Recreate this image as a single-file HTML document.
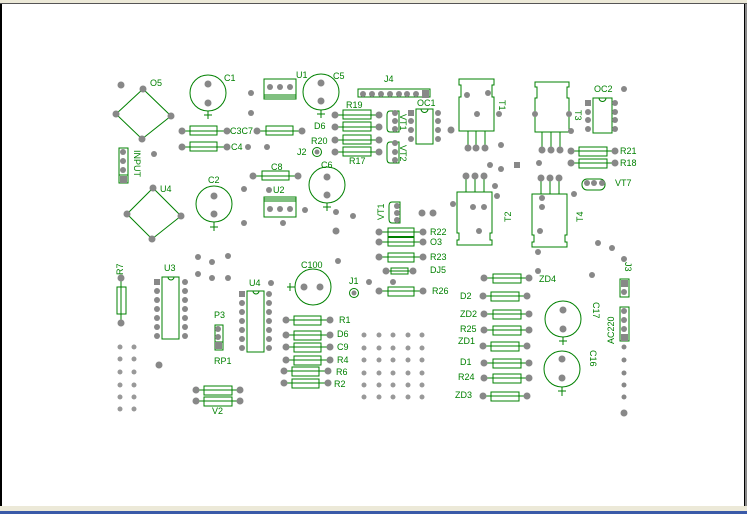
<!DOCTYPE html>
<html><head><meta charset="utf-8"><style>
html,body{margin:0;padding:0;background:#fff;width:747px;height:514px;overflow:hidden}
svg{display:block}
text{font-family:"Liberation Sans",sans-serif;font-size:9px;fill:#008000}
</style></head><body>
<svg width="747" height="514" viewBox="0 0 747 514" xmlns="http://www.w3.org/2000/svg">
<rect x="0" y="0" width="747" height="4" fill="#ece9d8"/>
<rect x="0" y="3" width="747" height="1" fill="#555"/>
<rect x="0" y="4" width="2" height="502" fill="#000"/>
<rect x="744" y="4" width="1" height="502" fill="#000"/>
<rect x="745" y="4" width="2" height="510" fill="#888"/>
<rect x="0" y="506" width="747" height="5" fill="#ece9d8"/>
<rect x="0" y="511" width="747" height="3" fill="#3a5aa8"/>

<g fill="none" stroke="#008000" stroke-width="1">
<!-- bridges -->
<polygon points="143,89 116,114 142,139 171,116"/>
<polygon points="153,188 127,214 152,239 181,216"/>
<!-- caps -->
<circle cx="208" cy="93" r="18"/><path d="M208,111V119M204,115H212"/>
<circle cx="321" cy="92" r="18"/><path d="M321,110V118M317,114H325"/>
<circle cx="214" cy="204" r="18"/><path d="M214,222V231M210,227H218"/>
<circle cx="327" cy="185" r="18"/><path d="M327,203V211M323,207H331"/>
<circle cx="313" cy="287" r="18"/><path d="M295,287H287M290,283V291"/>
<circle cx="563" cy="319" r="18"/><path d="M563,337V345M559,341H567"/>
<circle cx="562" cy="369" r="18"/><path d="M562,387V396M558,391H566"/>
<!-- U1 U2 regulators -->
<rect x="264" y="79" width="32" height="20"/><path d="M264,95H296M264,97H296"/>
<rect x="264" y="197" width="32" height="20"/><path d="M264,199H296M264,201H296"/>
<!-- INPUT -->
<rect x="119" y="148" width="9" height="35"/><path d="M119,175H128"/>
<!-- resistors -->
<path d="M182,131H227M257,131H302M182,147H227M253,176H298"/>
<rect x="190" y="126" width="27" height="9"/><rect x="266" y="126" width="27" height="9"/>
<rect x="190" y="142" width="27" height="9"/><rect x="262" y="171" width="27" height="9"/>
<path d="M335,115H379M335,127H379M335,140H379M335,152H379"/>
<rect x="343" y="110" width="28" height="9"/><rect x="343" y="122" width="28" height="9"/>
<rect x="343" y="135" width="28" height="9"/><rect x="343" y="147" width="28" height="9"/>
<!-- J4 -->
<rect x="358" y="89" width="72" height="8"/>
<!-- VT transistors -->
<path d="M399,111H390Q387,111 387,115V128Q387,132 390,132H399Z"/>
<path d="M399,142H390Q387,142 387,146V159Q387,163 390,163H399Z"/>
<path d="M400,202H392Q389,202 389,206V219Q389,223 392,223H400Z"/>
<!-- OC1 OC2 -->
<rect x="416" y="109" width="17" height="35"/><path d="M421,109A3.5,3.5 0 0 0 428,109"/>
<rect x="593" y="98" width="19" height="35"/><path d="M599,98A3.5,3.5 0 0 0 606,98"/>
<!-- T1 -->
<path d="M459,79H494V85H492V97H494V131H459V97H461V85H459Z"/>
<path d="M468,131V148M476,131V148M485,131V148"/>
<!-- T3 -->
<path d="M535,82H569V87H567V98H569V132H535V98H537V87H535Z"/>
<path d="M542,132V150M551,132V150M560,132V150"/>
<!-- T2 -->
<path d="M457,192H492V233H490V240H492V245H457V240H459V233H457Z"/>
<path d="M466,176V192M475,176V192M484,176V192"/>
<!-- T4 -->
<path d="M532,194H567V235H565V242H567V247H532V242H534V235H532Z"/>
<path d="M541,178V194M550,178V194M559,178V194"/>
<!-- VT7 -->
<rect x="582" y="179" width="23" height="11" rx="5"/>
<!-- R21 R18 -->
<path d="M571,151H615M571,163H615"/>
<rect x="579" y="147" width="28" height="9"/><rect x="579" y="159" width="28" height="9"/>
<!-- R22 O3 R23 D15 R26 -->
<path d="M379,232H423M379,242H423M379,257H423M386,271H413M379,291H423"/>
<rect x="388" y="228" width="26" height="9"/><rect x="388" y="237" width="26" height="9"/>
<path d="M388,237H414" stroke-width="2"/>
<rect x="388" y="253" width="26" height="9"/><rect x="391" y="268" width="17" height="6"/>
<rect x="388" y="287" width="26" height="9"/>
<!-- R7 -->
<path d="M121,278V323"/><rect x="117" y="287" width="9" height="27"/>
<!-- U3 U4 DIP -->
<rect x="162" y="277" width="17" height="62"/><path d="M168,277A3,3 0 0 0 174,277"/>
<rect x="247" y="291" width="17" height="61"/><path d="M253,291A3,3 0 0 0 259,291"/>
<!-- P3 -->
<rect x="215" y="325" width="8" height="25"/><path d="M215,342H223"/>
<!-- R1..R2 -->
<path d="M286,320H330M286,335H330M286,347H330M286,360H330M284,371H328M284,383H328"/>
<rect x="294" y="316" width="27" height="9"/><rect x="294" y="331" width="27" height="9"/>
<rect x="294" y="343" width="27" height="9"/><rect x="294" y="356" width="27" height="9"/>
<rect x="292" y="367" width="27" height="9"/><rect x="292" y="379" width="27" height="9"/>
<!-- V2 -->
<path d="M196,390H240M196,401H240"/>
<rect x="204" y="386" width="28" height="9"/><rect x="204" y="397" width="28" height="9"/>
<!-- right resistors -->
<path d="M484,278H529M483,296H527M484,314H529M484,330H529M483,346H527M484,363H529M484,378H529M483,396H527"/>
<rect x="493" y="274" width="28" height="9"/><rect x="491" y="292" width="28" height="9"/>
<rect x="493" y="310" width="28" height="9"/><rect x="493" y="326" width="28" height="9"/>
<rect x="491" y="342" width="28" height="9"/><rect x="493" y="359" width="28" height="9"/>
<rect x="493" y="374" width="28" height="9"/><rect x="491" y="392" width="28" height="9"/>
<!-- J3 AC220 -->
<rect x="620" y="279" width="9" height="18"/><rect x="620" y="307" width="9" height="34"/>
<!-- J2 J1 -->
<circle cx="317" cy="152" r="4.5"/><circle cx="354" cy="293" r="4.5"/>
</g>

<g fill="#888">
<circle cx="143" cy="89" r="3.5"/><circle cx="116" cy="114" r="3.5"/><circle cx="142" cy="139" r="3.5"/><circle cx="171" cy="116" r="3.5"/><circle cx="121" cy="85" r="3.5"/>
<circle cx="153" cy="188" r="3.5"/><circle cx="127" cy="214" r="3.5"/><circle cx="152" cy="239" r="3.5"/><circle cx="181" cy="216" r="3.5"/>
<circle cx="208" cy="84" r="3.5"/><circle cx="208" cy="103" r="3.5"/>
<circle cx="321" cy="83" r="3.5"/><circle cx="321" cy="101" r="3.5"/>
<circle cx="214" cy="196" r="3.5"/><circle cx="214" cy="214" r="3.5"/>
<circle cx="327" cy="177" r="3.5"/><circle cx="327" cy="195" r="3.5"/>
<circle cx="304" cy="287" r="3.5"/><circle cx="320" cy="287" r="3.5"/>
<circle cx="563" cy="310" r="3.5"/><circle cx="563" cy="329" r="3.5"/>
<circle cx="562" cy="359" r="3.5"/><circle cx="562" cy="378" r="3.5"/>
<circle cx="270" cy="87" r="3"/><circle cx="280" cy="87" r="3"/><circle cx="290" cy="87" r="3"/>
<circle cx="270" cy="209" r="3"/><circle cx="280" cy="209" r="3"/><circle cx="290" cy="209" r="3"/>
<circle cx="123" cy="152" r="3"/><circle cx="123" cy="161" r="3"/><circle cx="123" cy="170" r="3"/><rect x="120" y="176" width="7" height="7"/>
<circle cx="182" cy="131" r="3.5"/><circle cx="227" cy="131" r="3.5"/><circle cx="257" cy="131" r="3.5"/><circle cx="302" cy="131" r="3.5"/>
<circle cx="182" cy="147" r="3.5"/><circle cx="227" cy="147" r="3.5"/><circle cx="248" cy="147" r="3"/><circle cx="267" cy="147" r="3"/>
<circle cx="253" cy="176" r="3.5"/><circle cx="298" cy="176" r="3.5"/>
<circle cx="154" cy="154" r="3"/><circle cx="251" cy="93" r="3"/><circle cx="251" cy="113" r="3"/>
<circle cx="269" cy="190" r="3"/><circle cx="244" cy="189" r="3"/><circle cx="244" cy="223" r="3"/><circle cx="283" cy="223" r="3"/><circle cx="305" cy="210" r="3"/><circle cx="336" cy="212" r="3"/><circle cx="336" cy="231" r="3.5"/>
<circle cx="335" cy="115" r="3.5"/><circle cx="379" cy="115" r="3.5"/><circle cx="335" cy="127" r="3.5"/><circle cx="379" cy="127" r="3.5"/>
<circle cx="335" cy="140" r="3.5"/><circle cx="379" cy="140" r="3.5"/><circle cx="335" cy="152" r="3.5"/><circle cx="379" cy="152" r="3.5"/>
<circle cx="363" cy="94" r="3"/><circle cx="372" cy="94" r="3"/><circle cx="381" cy="94" r="3"/><circle cx="390" cy="94" r="3"/><circle cx="399" cy="94" r="3"/><circle cx="407" cy="94" r="3"/><circle cx="416" cy="94" r="3"/><rect x="422" y="90" width="7" height="8"/>
<circle cx="395" cy="113" r="3"/><circle cx="395" cy="121" r="3"/><circle cx="395" cy="129" r="3"/>
<circle cx="395" cy="143" r="3"/><circle cx="395" cy="152" r="3"/><circle cx="395" cy="160" r="3"/>
<circle cx="397" cy="206" r="3"/><circle cx="397" cy="213" r="3"/><circle cx="397" cy="220" r="3"/>
<rect x="408" y="110" width="6" height="6"/><circle cx="411" cy="121" r="3"/><circle cx="411" cy="130" r="3"/><circle cx="411" cy="139" r="3"/>
<circle cx="438" cy="113" r="3"/><circle cx="438" cy="121" r="3"/><circle cx="438" cy="130" r="3"/><circle cx="438" cy="139" r="3"/>
<circle cx="451" cy="130" r="3.5"/>
<rect x="585" y="100" width="6" height="6"/><circle cx="588" cy="112" r="3"/><circle cx="588" cy="120" r="3"/><circle cx="588" cy="129" r="3"/>
<circle cx="615" cy="103" r="3"/><circle cx="615" cy="112" r="3"/><circle cx="615" cy="120" r="3"/><circle cx="615" cy="129" r="3"/><circle cx="624" cy="89" r="3"/>
<circle cx="467" cy="95" r="3"/><circle cx="488" cy="93" r="3"/><circle cx="477" cy="114" r="3"/><circle cx="499" cy="114" r="3"/>
<circle cx="468" cy="148" r="3.5"/><circle cx="476" cy="148" r="3.5"/><circle cx="485" cy="148" r="3.5"/>
<circle cx="535" cy="114" r="3"/><circle cx="569" cy="114" r="3"/><circle cx="571" cy="131" r="3"/>
<circle cx="542" cy="150" r="3.5"/><circle cx="551" cy="150" r="3.5"/><circle cx="560" cy="150" r="3.5"/>
<circle cx="571" cy="151" r="3.5"/><circle cx="615" cy="151" r="3.5"/><circle cx="571" cy="163" r="3.5"/><circle cx="615" cy="163" r="3.5"/>
<circle cx="501" cy="145" r="3"/><circle cx="490" cy="165" r="3"/><circle cx="501" cy="169" r="3"/><rect x="514" y="162" width="6" height="6"/><circle cx="539" cy="163" r="3"/>
<circle cx="466" cy="176" r="3.5"/><circle cx="475" cy="176" r="3.5"/><circle cx="484" cy="176" r="3.5"/>
<circle cx="473" cy="207" r="3"/><circle cx="484" cy="207" r="3"/><circle cx="479" cy="231" r="3"/>
<circle cx="495" cy="186" r="3"/><circle cx="497" cy="196" r="3"/><circle cx="453" cy="204" r="3"/>
<circle cx="541" cy="178" r="3.5"/><circle cx="550" cy="178" r="3.5"/><circle cx="559" cy="178" r="3.5"/>
<circle cx="542" cy="198" r="3"/><circle cx="542" cy="207" r="3"/><circle cx="540" cy="231" r="3"/><circle cx="538" cy="252" r="3"/>
<circle cx="587" cy="183" r="3"/><circle cx="594" cy="183" r="3"/><circle cx="602" cy="183" r="3"/>
<circle cx="574" cy="194" r="3"/><circle cx="598" cy="243" r="3"/><circle cx="612" cy="248" r="3"/><circle cx="624" cy="259" r="3"/>
<circle cx="422" cy="213" r="3.5"/><circle cx="433" cy="213" r="3.5"/><circle cx="353" cy="216" r="3"/>
<circle cx="379" cy="232" r="3.5"/><circle cx="423" cy="232" r="3.5"/><circle cx="379" cy="242" r="3.5"/><circle cx="423" cy="242" r="3.5"/>
<circle cx="379" cy="257" r="3.5"/><circle cx="423" cy="257" r="3.5"/><circle cx="386" cy="271" r="3.5"/><circle cx="413" cy="271" r="3.5"/>
<circle cx="379" cy="291" r="3.5"/><circle cx="423" cy="291" r="3.5"/>
<circle cx="121" cy="278" r="3.5"/><circle cx="121" cy="323" r="3.5"/>
<rect x="154" y="279" width="6" height="6"/><circle cx="157" cy="291" r="3"/><circle cx="157" cy="300" r="3"/><circle cx="157" cy="309" r="3"/><circle cx="157" cy="318" r="3"/><circle cx="157" cy="327" r="3"/><circle cx="157" cy="336" r="3"/>
<circle cx="185" cy="282" r="3"/><circle cx="185" cy="291" r="3"/><circle cx="185" cy="300" r="3"/><circle cx="185" cy="309" r="3"/><circle cx="185" cy="318" r="3"/><circle cx="185" cy="327" r="3"/><circle cx="185" cy="336" r="3"/>
<rect x="239" y="291" width="6" height="6"/><circle cx="242" cy="303" r="3"/><circle cx="242" cy="312" r="3"/><circle cx="242" cy="321" r="3"/><circle cx="242" cy="330" r="3"/><circle cx="242" cy="339" r="3"/><circle cx="242" cy="348" r="3"/>
<circle cx="269" cy="294" r="3"/><circle cx="269" cy="303" r="3"/><circle cx="269" cy="312" r="3"/><circle cx="269" cy="321" r="3"/><circle cx="269" cy="330" r="3"/><circle cx="269" cy="339" r="3"/><circle cx="269" cy="348" r="3"/>
<circle cx="198" cy="257" r="3"/><circle cx="228" cy="256" r="3"/><circle cx="212" cy="262" r="3"/><circle cx="198" cy="274" r="3"/><circle cx="212" cy="278" r="3"/><circle cx="228" cy="278" r="3"/><circle cx="271" cy="283" r="3"/><circle cx="338" cy="261" r="3"/><circle cx="369" cy="282" r="3"/><circle cx="393" cy="282" r="3"/>
<circle cx="218" cy="329" r="3"/><circle cx="218" cy="337" r="3"/><rect x="215" y="342" width="7" height="7"/><circle cx="159" cy="365" r="3.5"/>
<circle cx="286" cy="320" r="3.5"/><circle cx="330" cy="320" r="3.5"/><circle cx="286" cy="335" r="3.5"/><circle cx="330" cy="335" r="3.5"/>
<circle cx="286" cy="347" r="3.5"/><circle cx="330" cy="347" r="3.5"/><circle cx="286" cy="360" r="3.5"/><circle cx="330" cy="360" r="3.5"/>
<circle cx="284" cy="371" r="3.5"/><circle cx="328" cy="371" r="3.5"/><circle cx="284" cy="383" r="3.5"/><circle cx="328" cy="383" r="3.5"/>
<circle cx="196" cy="390" r="3.5"/><circle cx="240" cy="390" r="3.5"/><circle cx="196" cy="401" r="3.5"/><circle cx="240" cy="401" r="3.5"/>
<circle cx="484" cy="278" r="3.5"/><circle cx="529" cy="278" r="3.5"/><circle cx="483" cy="296" r="3.5"/><circle cx="527" cy="296" r="3.5"/>
<circle cx="484" cy="314" r="3.5"/><circle cx="529" cy="314" r="3.5"/><circle cx="484" cy="330" r="3.5"/><circle cx="529" cy="330" r="3.5"/>
<circle cx="483" cy="346" r="3.5"/><circle cx="527" cy="346" r="3.5"/><circle cx="484" cy="363" r="3.5"/><circle cx="529" cy="363" r="3.5"/>
<circle cx="484" cy="378" r="3.5"/><circle cx="529" cy="378" r="3.5"/><circle cx="483" cy="396" r="3.5"/><circle cx="527" cy="396" r="3.5"/>
<circle cx="538" cy="271" r="3"/><circle cx="592" cy="275" r="3"/>
<rect x="621" y="280" width="7" height="7"/><circle cx="624" cy="292" r="3"/>
<circle cx="624" cy="311" r="3"/><circle cx="624" cy="320" r="3"/><circle cx="624" cy="329" r="3"/><rect x="621" y="334" width="7" height="7"/>
<circle cx="624" cy="347" r="2.5"/><circle cx="624" cy="360" r="2.5"/><circle cx="624" cy="373" r="2.5"/><circle cx="624" cy="385" r="2.5"/><circle cx="624" cy="397" r="2.5"/><circle cx="624" cy="413" r="3.5"/>
<circle cx="354" cy="293" r="2.5"/><circle cx="317" cy="152" r="2.5"/>
</g>
<g fill="#999">
<circle cx="120" cy="347" r="2.5"/><circle cx="134" cy="347" r="2.5"/><circle cx="120" cy="359" r="2.5"/><circle cx="134" cy="359" r="2.5"/>
<circle cx="120" cy="372" r="2.5"/><circle cx="134" cy="372" r="2.5"/><circle cx="120" cy="385" r="2.5"/><circle cx="134" cy="385" r="2.5"/>
<circle cx="120" cy="397" r="2.5"/><circle cx="134" cy="397" r="2.5"/><circle cx="120" cy="409" r="2.5"/><circle cx="134" cy="409" r="2.5"/>
<circle cx="364" cy="335" r="2.5"/><circle cx="379" cy="335" r="2.5"/><circle cx="393" cy="335" r="2.5"/><circle cx="408" cy="335" r="2.5"/><circle cx="422" cy="335" r="2.5"/>
<circle cx="364" cy="348" r="2.5"/><circle cx="379" cy="348" r="2.5"/><circle cx="393" cy="348" r="2.5"/><circle cx="408" cy="348" r="2.5"/><circle cx="422" cy="348" r="2.5"/>
<circle cx="364" cy="360" r="2.5"/><circle cx="379" cy="360" r="2.5"/><circle cx="393" cy="360" r="2.5"/><circle cx="408" cy="360" r="2.5"/><circle cx="422" cy="360" r="2.5"/>
<circle cx="364" cy="373" r="2.5"/><circle cx="379" cy="373" r="2.5"/><circle cx="393" cy="373" r="2.5"/><circle cx="408" cy="373" r="2.5"/><circle cx="422" cy="373" r="2.5"/>
<circle cx="364" cy="385" r="2.5"/><circle cx="379" cy="385" r="2.5"/><circle cx="393" cy="385" r="2.5"/><circle cx="408" cy="385" r="2.5"/><circle cx="422" cy="385" r="2.5"/>
<circle cx="364" cy="397" r="2.5"/><circle cx="379" cy="397" r="2.5"/><circle cx="393" cy="397" r="2.5"/><circle cx="408" cy="397" r="2.5"/><circle cx="422" cy="397" r="2.5"/>
</g>

<g>
<text x="150" y="86">O5</text><text x="224" y="81">C1</text><text x="296" y="78">U1</text><text x="333" y="79">C5</text>
<text x="230" y="134">C3C7</text><text x="231" y="150">C4</text>
<text x="346" y="108">R19</text><text x="314" y="129">D6</text><text x="311" y="144">R20</text><text x="297" y="155">J2</text><text x="349" y="164">R17</text>
<text x="384" y="82">J4</text><text x="417" y="106">OC1</text><text x="594" y="92">OC2</text>
<text x="620" y="154">R21</text><text x="620" y="166">R18</text><text x="615" y="186">VT7</text>
<text x="271" y="170">C8</text><text x="208" y="183">C2</text><text x="321" y="168">C6</text><text x="160" y="192">U4</text><text x="273" y="193">U2</text>
<text x="430" y="235">R22</text><text x="430" y="245">O3</text><text x="430" y="260">R23</text><text x="430" y="273">DJ5</text><text x="432" y="294">R26</text>
<text x="164" y="271">U3</text><text x="249" y="286">U4</text><text x="301" y="268">C100</text><text x="349" y="284">J1</text>
<text x="214" y="318">P3</text><text x="214" y="364">RP1</text><text x="212" y="414">V2</text>
<text x="339" y="323">R1</text><text x="337" y="337">D6</text><text x="337" y="350">C9</text><text x="337" y="363">R4</text><text x="336" y="375">R6</text><text x="334" y="387">R2</text>
<text x="539" y="282">ZD4</text><text x="460" y="299">D2</text><text x="460" y="317">ZD2</text><text x="460" y="332">R25</text><text x="458" y="344">ZD1</text>
<text x="460" y="365">D1</text><text x="458" y="380">R24</text><text x="455" y="398">ZD3</text>
<text transform="translate(134,150) rotate(90)">INPUT</text>
<text transform="translate(400,114) rotate(90)">VT1</text>
<text transform="translate(400,145) rotate(90)">VT2</text>
<text transform="translate(384,220) rotate(-90)">VT1</text>
<text transform="translate(499,100) rotate(90)">T1</text>
<text transform="translate(575,110) rotate(90)">T3</text>
<text transform="translate(511,222) rotate(-90)">T2</text>
<text transform="translate(583,222) rotate(-90)">T4</text>
<text transform="translate(123,275) rotate(-90)">R7</text>
<text transform="translate(625,262) rotate(90)">J3</text>
<text transform="translate(593,302) rotate(90)">C17</text>
<text transform="translate(590,350) rotate(90)">C16</text>
<text transform="translate(614,344) rotate(-90)">AC220</text>
</g>
</svg>
</body></html>
